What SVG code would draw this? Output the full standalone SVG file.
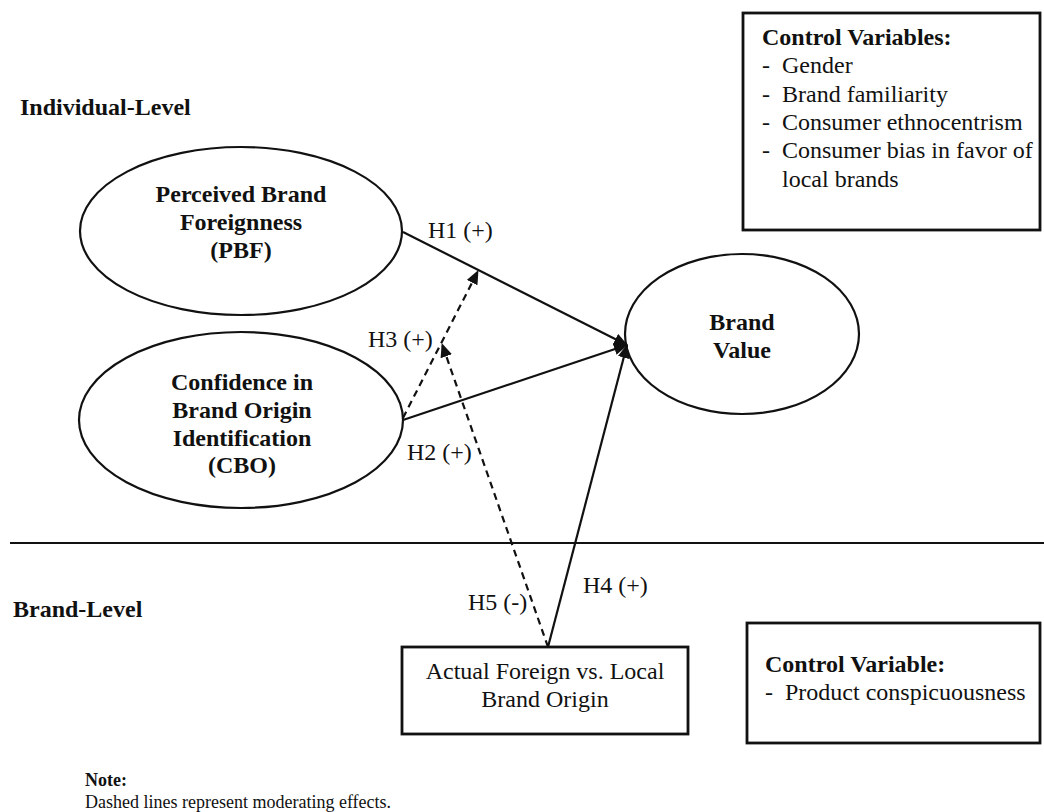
<svg xmlns="http://www.w3.org/2000/svg" width="1044" height="812" viewBox="0 0 1044 812">
<defs>
<style>
text{font-family:"Liberation Serif","Times New Roman",serif;fill:#111;font-size:24px}
.b{font-weight:bold}
.c{text-anchor:middle}
.shape{fill:#fff;stroke:#111;stroke-width:2.2}
.box{fill:#fff;stroke:#111;stroke-width:2.8}
.ln{stroke:#111;stroke-width:2.2;fill:none}
.dash{stroke:#111;stroke-width:2.2;fill:none;stroke-dasharray:7 5}
.note{font-size:18px}
</style>
<marker id="ahd" markerWidth="14" markerHeight="12" refX="13" refY="6" orient="auto" markerUnits="userSpaceOnUse" viewBox="0 0 14 12">
<path d="M0,0 L14,6 L0,12 z" fill="#111"/>
</marker>
</defs>
<rect width="1044" height="812" fill="#fff"/>

<g id="levels">
<line x1="10" y1="543" x2="1044" y2="543" class="ln"/>
<text x="20" y="115" class="b">Individual-Level</text>
<text x="13" y="617" class="b">Brand-Level</text>
</g>

<g id="brandvalue">
<ellipse cx="742" cy="334" rx="117" ry="80" class="shape"/>
<text x="742" y="330" class="b c">Brand</text>
<text x="742" y="358" class="b c">Value</text>
</g>

<g id="connectors">
<line x1="403" y1="232" x2="627" y2="345" class="ln" marker-end="url(#ahd)"/>
<line x1="403" y1="420" x2="627" y2="345" class="ln" marker-end="url(#ahd)"/>
<line x1="548" y1="647" x2="627" y2="345" class="ln" marker-end="url(#ahd)"/>
<line x1="403" y1="418" x2="478" y2="271" class="dash" marker-end="url(#ahd)"/>
<line x1="548" y1="647" x2="442" y2="344" class="dash" marker-end="url(#ahd)"/>
<text x="428" y="238">H1 (+)</text>
<text x="368" y="347">H3 (+)</text>
<text x="407" y="460">H2 (+)</text>
<text x="583" y="593">H4 (+)</text>
<text x="468" y="610">H5 (-)</text>
</g>

<g id="pbf">
<ellipse cx="241" cy="231" rx="161" ry="84" class="shape"/>
<text x="241" y="202" class="b c">Perceived Brand</text>
<text x="241" y="230" class="b c">Foreignness</text>
<text x="241" y="258" class="b c">(PBF)</text>
</g>

<g id="cbo">
<ellipse cx="241" cy="420" rx="162" ry="88" class="shape"/>
<text x="242" y="390" class="b c">Confidence in</text>
<text x="242" y="418" class="b c">Brand Origin</text>
<text x="242" y="446" class="b c">Identification</text>
<text x="242" y="473" class="b c">(CBO)</text>
</g>

<g id="control1">
<rect x="743" y="13" width="297" height="217" class="box"/>
<text x="762" y="45" class="b">Control Variables:</text>
<text x="762" y="73">-</text><text x="782" y="73">Gender</text>
<text x="762" y="102">-</text><text x="782" y="102">Brand familiarity</text>
<text x="762" y="130">-</text><text x="782" y="130">Consumer ethnocentrism</text>
<text x="762" y="158">-</text><text x="782" y="158">Consumer bias in favor of</text>
<text x="782" y="187">local brands</text>
</g>

<g id="origin">
<rect x="402" y="647" width="286" height="87" class="box"/>
<text x="545" y="679" class="c">Actual Foreign vs. Local</text>
<text x="545" y="707" class="c">Brand Origin</text>
</g>

<g id="control2">
<rect x="747" y="623" width="293" height="120" class="box"/>
<text x="765" y="672" class="b">Control Variable:</text>
<text x="765" y="700">-</text><text x="785" y="700">Product conspicuousness</text>
</g>

<g id="note">
<text x="85" y="786" class="b note">Note:</text>
<text x="85" y="808" class="note">Dashed lines represent moderating effects.</text>
</g>
</svg>
